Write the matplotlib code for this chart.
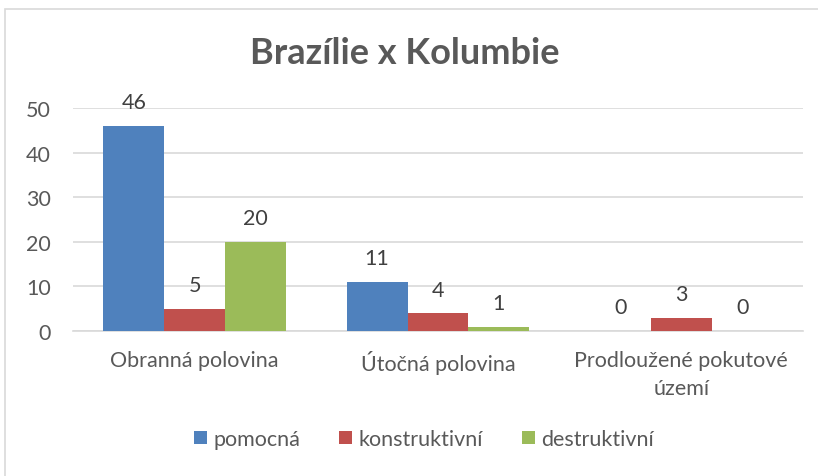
import numpy as np
import matplotlib
matplotlib.use("Agg")
import matplotlib.pyplot as plt
from matplotlib.patches import Rectangle

# data
categories = ["Obranná polovina", "Útočná polovina", "Prodloužené pokutové\núzemí"]
series_names = ["pomocná", "konstruktivní", "destruktivní"]
pomocna = [46, 11, 0]
konstruktivni = [5, 4, 3]
destruktivni = [20, 1, 0]
colors = ["#4F81BD", "#C0504D", "#9BBB59"]
text_col = "#595959"

plt.rcParams['font.family'] = ['Lato', 'DejaVu Sans']

fig = plt.figure(figsize=(8.18, 4.77), dpi=100)
fig.patches.append(Rectangle((5 / 818, -0.1), 1.2, 1 - 10 / 477 + 0.1,
                             transform=fig.transFigure, fill=False,
                             edgecolor="#D9D9D9", linewidth=1.2))

ax = fig.add_axes([73 / 818, 1 - 332 / 477, 730 / 818, 223 / 477])

x = np.arange(len(categories))
w = 0.25
for i, vals in enumerate([pomocna, konstruktivni, destruktivni]):
    bars = ax.bar(x + (i - 1) * w, vals, width=w, color=colors[i],
                  label=series_names[i], zorder=3)
    for b, v in zip(bars, vals):
        ax.text(b.get_x() + b.get_width() / 2, v + 5.3, str(v),
                ha="center", va="center", fontsize=15.5, color="#404040")

ax.set_xlim(-0.5, 2.5)
ax.set_ylim(0, 50)
ax.set_yticks(range(0, 51, 10))
ax.yaxis.grid(True, color="#D9D9D9", linewidth=1.2, zorder=0)
ax.set_xticks(x)
ax.set_xticklabels(categories, fontsize=15.5, color=text_col, linespacing=1.45)
ax.tick_params(axis="y", labelsize=15.5, labelcolor=text_col, length=0, pad=16)
ax.tick_params(axis="x", length=0, pad=14)
for s in ["left", "right", "top"]:
    ax.spines[s].set_visible(False)
ax.spines["bottom"].set_color("#D9D9D9")
ax.spines["bottom"].set_linewidth(1.2)

fig.text(405 / 818, 1 - 54 / 477, "Brazílie x Kolumbie", ha="center", va="center",
         fontsize=26, fontweight="bold", color=text_col)

fig.legend(loc="center", bbox_to_anchor=(424 / 818, 1 - 440 / 477), ncol=3,
           frameon=False, fontsize=15.5, handlelength=0.6, handleheight=0.6,
           handletextpad=0.3, columnspacing=1.8, labelcolor=text_col)

fig.savefig("out.png", dpi=100)
